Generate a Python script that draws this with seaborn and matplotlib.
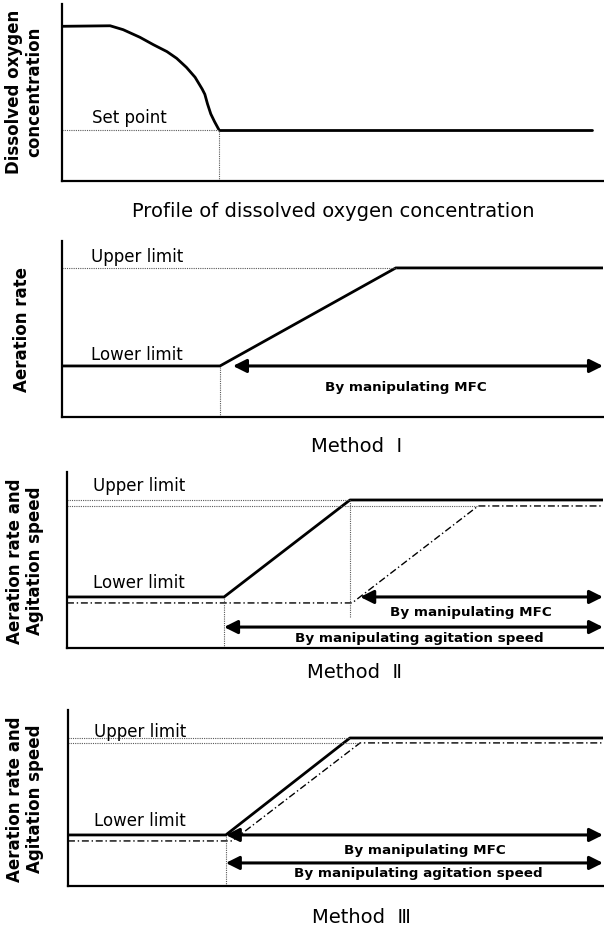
import matplotlib
matplotlib.use("Agg")
import matplotlib.pyplot as plt
import seaborn as sns

sns.set_style("white")
plt.rcParams['font.family'] = ['DejaVu Sans', 'Noto Sans CJK KR']
plt.rcParams['text.color'] = 'black'

# ---------------- data (time axis 0-100, level axis 0-100) ----------------
# dissolved oxygen profile
do_time = [0, 8.9, 11.3, 14.4, 16.9, 19.4, 21.2, 23.0, 24.6, 25.9, 26.4, 26.9, 27.5, 28.2, 29.0]
do_conc = [87.4, 87.7, 85.5, 81.2, 77.0, 73.1, 69.3, 64.2, 58.6, 52.0, 49.0, 43.5, 37.9, 33.5, 29.0]
set_point = 29.0
set_point_time = 29.0
do_end_time = 98.0

# Method I : aeration rate
m1_time = [0, 29.2, 61.7, 100]
m1_aer = [29.0, 29.0, 84.7, 84.7]

# Method II : aeration (solid) and agitation (dash-dot)
m2_aer_time = [0, 29.3, 52.8, 100]
m2_aer = [29.0, 29.0, 84.1, 84.1]
m2_agit_time = [0, 53.2, 76.7, 100]
m2_agit = [25.6, 25.6, 80.7, 80.7]

# Method III
m3_aer_time = [0, 29.5, 52.7, 100]
m3_aer = [29.0, 29.0, 84.1, 84.1]
m3_agit_time = [0, 30.7, 54.6, 100]
m3_agit = [25.6, 25.6, 81.3, 81.3]

W, H = 604, 929
fig = plt.figure(figsize=(W / 100, H / 100), dpi=100)


def px_axes(l, t, r, b):
    ax = fig.add_axes([l / W, 1 - b / H, (r - l) / W, (b - t) / H])
    ax.set_xlim(0, 100)
    ax.set_ylim(0, 100)
    ax.set_xticks([])
    ax.set_yticks([])
    sns.despine(ax=ax)
    for s in ['left', 'bottom']:
        ax.spines[s].set_linewidth(1.6)
        ax.spines[s].set_color('black')
    return ax


def solid(ax, x, y):
    sns.lineplot(x=x, y=y, ax=ax, color='black', linewidth=2.0, estimator=None, sort=False)


def dashdot(ax, x, y):
    sns.lineplot(x=x, y=y, ax=ax, color='black', linewidth=1.0, estimator=None, sort=False,
                 linestyle=(0, (5, 2, 1, 2)))


def dotted(ax, x, y):
    ax.plot(x, y, color='0.35', linewidth=0.8, linestyle=(0, (1, 1)))


def arrow(ax, x0, x1, y):
    ax.annotate('', xy=(x1, y), xytext=(x0, y),
                arrowprops=dict(arrowstyle='<|-|>', lw=2.2, color='black',
                                mutation_scale=20, shrinkA=0, shrinkB=0),
                annotation_clip=False)


lim_kw = dict(fontsize=12, ha='left', va='center')
man_kw = dict(fontsize=9.7, fontweight='bold', ha='center', va='center')
ylab_kw = dict(fontsize=12, fontweight='bold', rotation=90, ha='center', va='center',
               linespacing=1.15)
cap_kw = dict(fontsize=14, ha='center', va='center')

# ---------------- panel 1 ----------------
ax1 = px_axes(62, 5, 603, 182)
solid(ax1, do_time, do_conc)
solid(ax1, [set_point_time, do_end_time], [set_point, set_point])
dotted(ax1, [0, set_point_time], [set_point, set_point])
dotted(ax1, [set_point_time, set_point_time], [0, set_point])
ax1.text(5.5, 36, 'Set point', **lim_kw)
fig.text(24 / W, 1 - 92 / H, 'Dissolved oxygen\nconcentration', **ylab_kw)
fig.text(333 / W, 1 - 212 / H, 'Profile of dissolved oxygen concentration', **cap_kw)

# ---------------- panel 2 : Method I ----------------
ax2 = px_axes(62, 242, 603, 418)
solid(ax2, m1_time, m1_aer)
dotted(ax2, [0, m1_time[2]], [m1_aer[2], m1_aer[2]])
dotted(ax2, [m1_time[1], m1_time[1]], [0, m1_aer[1]])
arrow(ax2, 31.6, 100, m1_aer[1])
ax2.text(63.6, 17.6, 'By manipulating MFC', **man_kw)
ax2.text(5.4, 91.5, 'Upper limit', **lim_kw)
ax2.text(5.4, 35.8, 'Lower limit', **lim_kw)
fig.text(22 / W, 1 - 330 / H, 'Aeration rate', **ylab_kw)
fig.text(357 / W, 1 - 447 / H, 'Method  \u2160', **cap_kw)

# ---------------- panel 3 : Method II ----------------
ax3 = px_axes(67, 473, 603, 649)
solid(ax3, m2_aer_time, m2_aer)
dashdot(ax3, m2_agit_time, m2_agit)
dotted(ax3, [0, m2_aer_time[2]], [m2_aer[2], m2_aer[2]])
dotted(ax3, [0, m2_agit_time[2]], [m2_agit[2], m2_agit[2]])
dotted(ax3, [m2_aer_time[1], m2_aer_time[1]], [0, m2_aer[1]])
dotted(ax3, [m2_aer_time[2], m2_aer_time[2]], [17.6, m2_aer[2]])
arrow(ax3, 54.7, 100, m2_aer[1])
arrow(ax3, m2_aer_time[1], 100, 11.9)
ax3.text(75.4, 20.5, 'By manipulating MFC', **man_kw)
ax3.text(65.7, 5.7, 'By manipulating agitation speed', **man_kw)
ax3.text(4.9, 92.6, 'Upper limit', **lim_kw)
ax3.text(4.9, 37.5, 'Lower limit', **lim_kw)
fig.text(25 / W, 1 - 561 / H, 'Aeration rate and\nAgitation speed', **ylab_kw)
fig.text(355 / W, 1 - 672 / H, 'Method  \u2161', **cap_kw)

# ---------------- panel 4 : Method III ----------------
ax4 = px_axes(68, 711, 603, 887)
solid(ax4, m3_aer_time, m3_aer)
dashdot(ax4, m3_agit_time, m3_agit)
dotted(ax4, [0, m3_aer_time[2]], [m3_aer[2], m3_aer[2]])
dotted(ax4, [0, m3_agit_time[2]], [m3_agit[2], m3_agit[2]])
dotted(ax4, [m3_aer_time[1], m3_aer_time[1]], [0, m3_aer[1]])
arrow(ax4, m3_aer_time[1], 100, m3_aer[1])
arrow(ax4, m3_aer_time[1], 100, 13.1)
ax4.text(66.7, 20.5, 'By manipulating MFC', **man_kw)
ax4.text(65.4, 7.4, 'By manipulating agitation speed', **man_kw)
ax4.text(4.9, 88, 'Upper limit', **lim_kw)
ax4.text(4.9, 37.5, 'Lower limit', **lim_kw)
fig.text(25 / W, 1 - 799 / H, 'Aeration rate and\nAgitation speed', **ylab_kw)
fig.text(361 / W, 1 - 918 / H, 'Method  \u2162', **cap_kw)

fig.savefig('out.png', dpi=100)
